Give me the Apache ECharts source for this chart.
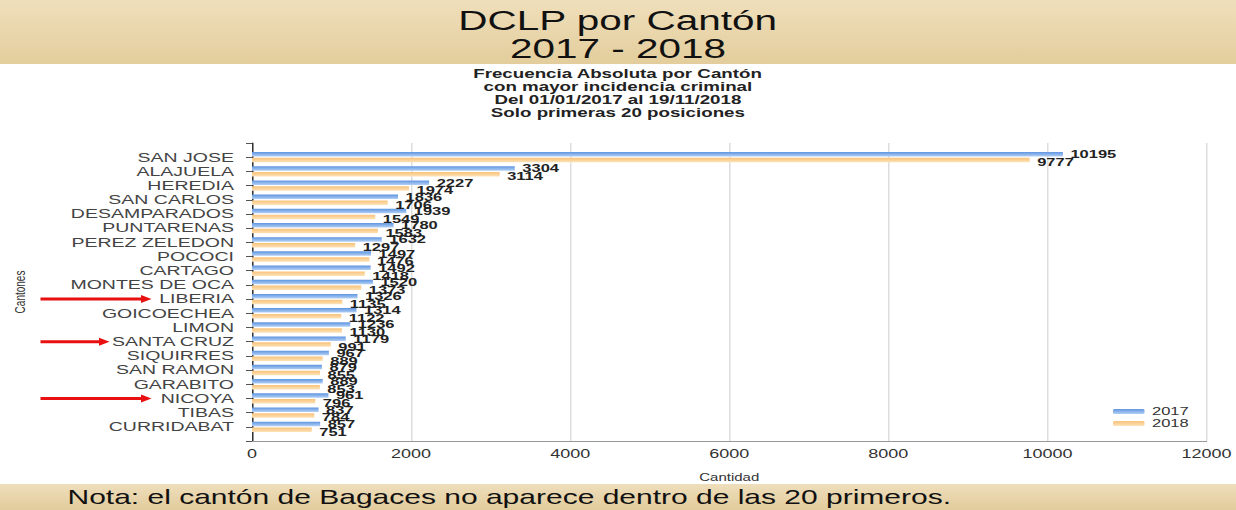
<!DOCTYPE html>
<html><head><meta charset="utf-8">
<script src="https://cdn.jsdelivr.net/npm/echarts@6/dist/echarts.min.js"></script>
<style>html,body{margin:0;padding:0;background:#fff;overflow:hidden;width:1236px;height:510px}
#c{width:824px;height:510px;transform:scaleX(1.5);transform-origin:0 0}</style>
</head><body><div id="c"></div>
<script>
const cantones = ['SAN JOSE','ALAJUELA','HEREDIA','SAN CARLOS','DESAMPARADOS','PUNTARENAS','PEREZ ZELEDON','POCOCI','CARTAGO','MONTES DE OCA','LIBERIA','GOICOECHEA','LIMON','SANTA CRUZ','SIQUIRRES','SAN RAMON','GARABITO','NICOYA','TIBAS','CURRIDABAT'];
const v2017 = [10195,3304,2227,1836,1939,1780,1632,1497,1492,1520,1326,1314,1236,1179,967,879,889,961,837,857];
const v2018 = [9777,3114,1974,1706,1549,1583,1297,1476,1418,1373,1135,1122,1130,991,889,855,853,796,784,751];
const xTicks = [0,2000,4000,6000,8000,10000,12000];
const marked = ['LIBERIA','SANTA CRUZ','NICOYA'];
const arrowStartX = [27,27,27];
const arrowEndX = [101,73,101];

const cats = [''].concat(cantones, ['']);
const d17 = [null].concat(v2017, [null]);
const d18 = [null].concat(v2018, [null]);

const chart = echarts.init(document.getElementById('c'), null, {renderer:'svg'});
const grad = (a,b)=>new echarts.graphic.LinearGradient(0,0,0,1,[{offset:0,color:a},{offset:1,color:b}]);
const F = 'Arial, "Liberation Sans", sans-serif';
const lbl = {show:true, position:'right', distance:5, color:'#222', fontWeight:'bold', fontSize:11, fontFamily:F};
const subLines = ['Frecuencia Absoluta por Cantón','con mayor incidencia criminal','Del 01/01/2017 al 19/11/2018','Solo primeras 20 posiciones'];
const baseGraphic = [
  {type:'rect', left:0, top:0, shape:{width:824,height:64}, style:{fill:grad('#efdfbb','#e3cd9c')}, z:-1},
  {type:'rect', left:0, top:484, shape:{width:824,height:26}, style:{fill:grad('#eedebb','#e2cc9d')}, z:-1},
  {type:'text', left:'center', top:7, style:{text:'DCLP por Cantón', fill:'#111', font:'27px '+F}},
  {type:'text', left:'center', top:35, style:{text:'2017 - 2018', fill:'#111', font:'27px '+F}},
  {type:'text', left:45, top:487, style:{text:'Nota: el cantón de Bagaces no aparece dentro de las 20 primeros.', fill:'#111', font:'20px '+F}}
].concat(subLines.map((t,i)=>({type:'text', left:'center', top:67+i*13, style:{text:t, fill:'#222', font:'bold 12.5px '+F}})));

chart.setOption({
  animation:false,
  backgroundColor:'#fff',
  graphic:baseGraphic,
  legend:{
    orient:'vertical', left:737, top:401, itemWidth:21, itemHeight:5, itemGap:1,
    textStyle:{color:'#333', fontSize:11, fontFamily:F},
    data:['2017','2018']
  },
  grid:{left:165.3, right:18.7, top:143, bottom:69, containLabel:false},
  xAxis:{
    type:'value', min:0, max:12000, interval:2000,
    name:'Cantidad', nameLocation:'middle', nameGap:31,
    nameTextStyle:{fontSize:10, color:'#333', fontFamily:F},
    axisLine:{show:true, lineStyle:{color:'#999'}},
    axisTick:{show:false},
    axisLabel:{color:'#333', fontSize:12, fontFamily:F, margin:7, formatter:v=>xTicks.includes(v)?String(v):''},
    splitLine:{show:true, lineStyle:{color:'#ddd'}}
  },
  yAxis:{
    type:'category', data:cats, inverse:true, boundaryGap:false,
    name:'Cantones', nameLocation:'middle', nameGap:150, nameRotate:90,
    nameTextStyle:{fontSize:10, color:'#333', fontFamily:F},
    axisLine:{show:true, lineStyle:{color:'#333'}},
    axisTick:{show:true, length:4, lineStyle:{color:'#555'}, interval:0},
    axisLabel:{interval:0, color:'#444', fontSize:13, fontFamily:F, margin:12},
    splitLine:{show:false}
  },
  series:[
    {name:'2017', type:'bar', data:d17, barWidth:4.5, barGap:'30%',
     itemStyle:{color:grad('#5f95e0','#b3d0f5')},
     label:Object.assign({}, lbl, {offset:[0,0]})},
    {name:'2018', type:'bar', data:d18, barWidth:4.5, barGap:'30%',
     itemStyle:{color:grad('#f8c27a','#fde3b8')},
     label:Object.assign({}, lbl, {offset:[0,2]})}
  ]
});
const arrows = [];
marked.forEach((c,i)=>{
  const y = chart.convertToPixel({yAxisIndex:0}, c);
  const x0 = arrowStartX[i], x1 = arrowEndX[i];
  arrows.push({type:'line', shape:{x1:x0,y1:y,x2:x1-6,y2:y}, style:{stroke:'#e81010', lineWidth:3}, z:10});
  arrows.push({type:'polygon', shape:{points:[[x1-7,y-4],[x1,y],[x1-7,y+4]]}, style:{fill:'#e81010'}, z:10});
});
chart.setOption({graphic:baseGraphic.concat(arrows)});
</script></body></html>
